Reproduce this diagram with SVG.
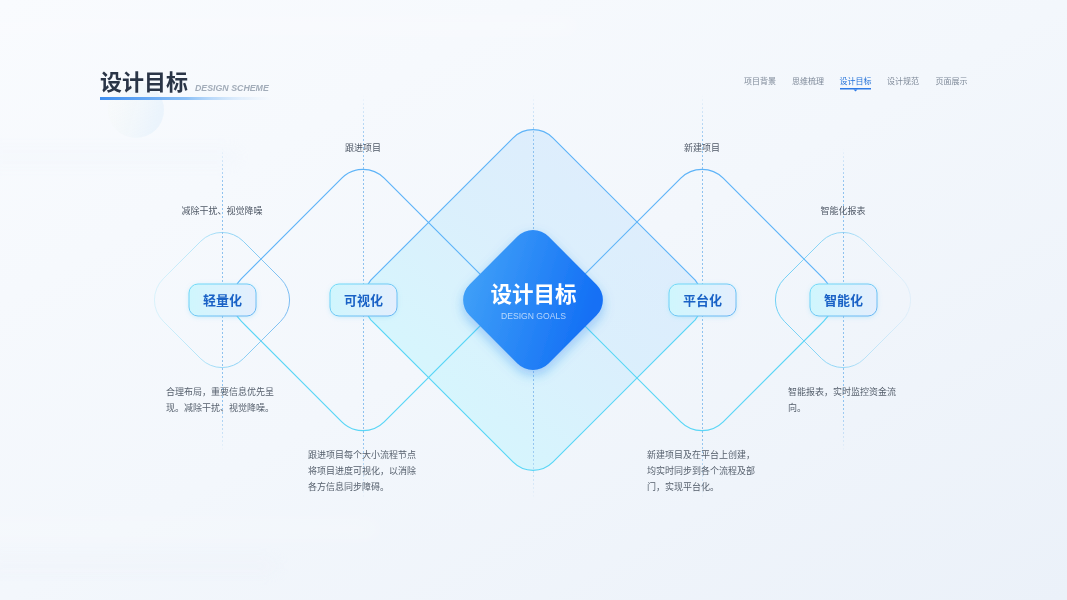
<svg xmlns="http://www.w3.org/2000/svg" width="1067" height="600" viewBox="0 0 1067 600">
<defs>
<linearGradient id="bg" x1="0" y1="0" x2="1" y2="1">
<stop offset="0" stop-color="#f9fbfe"/><stop offset="0.5" stop-color="#f3f7fc"/><stop offset="1" stop-color="#ebf1f9"/>
</linearGradient>
<filter id="blur8" x="-50%" y="-50%" width="200%" height="200%"><feGaussianBlur stdDeviation="10"/></filter>
<linearGradient id="ttlLine" x1="0" y1="0" x2="1" y2="0">
<stop offset="0" stop-color="#3d8df0"/><stop offset="0.5" stop-color="#8cc0f6"/><stop offset="1" stop-color="#d6e8fb" stop-opacity="0"/>
</linearGradient>
<linearGradient id="deco" x1="0" y1="0" x2="1" y2="0.3">
<stop offset="0" stop-color="#fbfcf4" stop-opacity="0.4"/><stop offset="1" stop-color="#dcedfb"/>
</linearGradient>
<linearGradient id="topLine" x1="0" y1="0" x2="1" y2="0">
<stop offset="0" stop-color="#c4daf3" stop-opacity="0"/><stop offset="0.1" stop-color="#c4daf3"/><stop offset="0.9" stop-color="#c4daf3"/><stop offset="1" stop-color="#c4daf3" stop-opacity="0.2"/>
</linearGradient>
<linearGradient id="bigFill" gradientUnits="userSpaceOnUse" x1="640" y1="180" x2="430" y2="420">
<stop offset="0" stop-color="#dcebfc"/><stop offset="0.45" stop-color="#d8eefc"/><stop offset="1" stop-color="#d2f6fd"/>
</linearGradient>
<linearGradient id="smallL" gradientUnits="userSpaceOnUse" x1="155" y1="0" x2="290" y2="0">
<stop offset="0" stop-color="#a6e6f8" stop-opacity="0.35"/><stop offset="0.6" stop-color="#8fd3f5"/><stop offset="1" stop-color="#7cbcf2"/>
</linearGradient>
<linearGradient id="smallR" gradientUnits="userSpaceOnUse" x1="776" y1="0" x2="911" y2="0">
<stop offset="0" stop-color="#6fd0f5"/><stop offset="0.5" stop-color="#9ad8f6"/><stop offset="1" stop-color="#c4e4f8" stop-opacity="0.35"/>
</linearGradient>
<linearGradient id="dashLong" gradientUnits="userSpaceOnUse" x1="0" y1="95" x2="0" y2="500">
<stop offset="0" stop-color="#8ec2ef" stop-opacity="0"/><stop offset="0.12" stop-color="#8ec2ef"/><stop offset="0.85" stop-color="#8ec2ef"/><stop offset="1" stop-color="#8ec2ef" stop-opacity="0"/>
</linearGradient>
<linearGradient id="dashShort" gradientUnits="userSpaceOnUse" x1="0" y1="148" x2="0" y2="452">
<stop offset="0" stop-color="#8ec2ef" stop-opacity="0"/><stop offset="0.12" stop-color="#8ec2ef"/><stop offset="0.85" stop-color="#8ec2ef"/><stop offset="1" stop-color="#8ec2ef" stop-opacity="0"/>
</linearGradient>
<linearGradient id="coreFill" x1="0" y1="0" x2="1" y2="0.3">
<stop offset="0" stop-color="#45a6f8"/><stop offset="1" stop-color="#1470f5"/>
</linearGradient>
<filter id="coreShadow" x="-30%" y="-30%" width="160%" height="170%">
<feDropShadow dx="0" dy="5" stdDeviation="6" flood-color="#1f78ee" flood-opacity="0.35"/>
</filter>
<linearGradient id="pillFill" x1="0" y1="0" x2="1" y2="0">
<stop offset="0" stop-color="#cff6fd"/><stop offset="1" stop-color="#e4eefd"/>
</linearGradient>
<linearGradient id="pillStroke" x1="0" y1="0" x2="1" y2="1">
<stop offset="0" stop-color="#74dcf7"/><stop offset="1" stop-color="#6ab4f3"/>
</linearGradient>
<filter id="pillGlow" x="-30%" y="-40%" width="160%" height="180%">
<feDropShadow dx="0" dy="1" stdDeviation="2" flood-color="#6fd3f5" flood-opacity="0.3"/>
</filter>
<style>
text{font-family:"Liberation Sans","Noto Sans CJK SC",sans-serif}
.cap{font-size:9px;fill:#4f5866;text-anchor:middle}
.desc{font-size:9px;fill:#56606d}
.nav{font-size:8px;fill:#7f8a99;text-anchor:middle}
.pilltxt{font-size:13px;font-weight:bold;fill:#1a62c6;text-anchor:middle}
.pill{fill:url(#pillFill);stroke:url(#pillStroke);stroke-width:1;filter:url(#pillGlow)}
.dash{fill:none;stroke-width:1;stroke-dasharray:2 2}
.up{fill:none;stroke:#5fb4f8;stroke-width:1.2}
.low{fill:none;stroke:#5ad6f6;stroke-width:1.2}
</style>
</defs>

<!-- background -->
<rect width="1067" height="600" fill="url(#bg)"/>
<g filter="url(#blur8)" opacity="0.45">
<rect x="-20" y="18" width="600" height="16" fill="#ffffff" opacity="0.6"/>
<rect x="-20" y="150" width="260" height="14" fill="#e9f0f8" opacity="0.4"/>
<rect x="-20" y="520" width="400" height="18" fill="#ffffff" opacity="0.5"/>
<rect x="-20" y="560" width="300" height="12" fill="#ebf1f8" opacity="0.5"/>
</g>

<!-- header -->
<g id="header">
<line x1="195" y1="67" x2="1062" y2="67" stroke="url(#topLine)" stroke-width="1" stroke-dasharray="2 1"/>
<circle cx="136" cy="110" r="28" fill="url(#deco)" opacity="0.45"/>
<text x="100" y="90" style="font-size:22px;font-weight:bold;fill:#2a3547">设计目标</text>
<text x="195" y="91" style="font-size:8.8px;font-weight:bold;font-style:italic;fill:#a2acb9">DESIGN SCHEME</text>
<rect x="100" y="97" width="172" height="3" fill="url(#ttlLine)"/>
</g>

<g id="nav">
<text class="nav" x="760" y="84">项目背景</text>
<text class="nav" x="808" y="84">思维梳理</text>
<text class="nav" x="855.5" y="84" style="fill:#1f6fd8">设计目标</text>
<text class="nav" x="903" y="84">设计规范</text>
<text class="nav" x="951.5" y="84">页面展示</text>
<rect x="840" y="88" width="31" height="1.5" fill="#2d7ae6"/>
<path d="M853.5 89.5 L857.5 89.5 L855.5 91.5 Z" fill="#2d7ae6"/>
</g>

<!-- big diamond -->
<g id="big-diamond">
<path d="M513.2 137.8 A28 28 0 0 1 552.8 137.8 L695.2 280.2 A28 28 0 0 1 695.2 319.8 L552.8 462.2 A28 28 0 0 1 513.2 462.2 L370.8 319.8 A28 28 0 0 1 370.8 280.2 Z" fill="url(#bigFill)" fill-opacity="0.9"/>
<path class="up" d="M364.9 300 A28 28 0 0 1 370.8 280.2 L513.2 137.8 A28 28 0 0 1 552.8 137.8 L695.2 280.2 A28 28 0 0 1 701.1 300"/>
<path class="low" d="M701.1 300 A28 28 0 0 1 695.2 319.8 L552.8 462.2 A28 28 0 0 1 513.2 462.2 L370.8 319.8 A28 28 0 0 1 364.9 300"/>
</g>

<!-- connectors / outlines -->
<g id="connectors">
<path class="up" d="M232.6 300 A30 30 0 0 1 241.2 278.8 L341.8 178.2 A30 30 0 0 1 384.2 178.2 L484.8 278.8 A30 30 0 0 1 493.4 300"/>
<path class="low" d="M493.4 300 A30 30 0 0 1 484.8 321.2 L384.2 421.8 A30 30 0 0 1 341.8 421.8 L241.2 321.2 A30 30 0 0 1 232.6 300"/>
<path class="up" d="M571.6 300 A30 30 0 0 1 580.2 278.8 L680.8 178.2 A30 30 0 0 1 723.2 178.2 L823.8 278.8 A30 30 0 0 1 832.4 300"/>
<path class="low" d="M832.4 300 A30 30 0 0 1 823.8 321.2 L723.2 421.8 A30 30 0 0 1 680.8 421.8 L580.2 321.2 A30 30 0 0 1 571.6 300"/>
<path d="M200.8 241.2 A30 30 0 0 1 243.2 241.2 L280.8 278.8 A30 30 0 0 1 280.8 321.2 L243.2 358.8 A30 30 0 0 1 200.8 358.8 L163.2 321.2 A30 30 0 0 1 163.2 278.8 Z" fill="none" stroke="url(#smallL)" stroke-width="1"/>
<path d="M821.8 241.2 A30 30 0 0 1 864.2 241.2 L901.8 278.8 A30 30 0 0 1 901.8 321.2 L864.2 358.8 A30 30 0 0 1 821.8 358.8 L784.2 321.2 A30 30 0 0 1 784.2 278.8 Z" fill="none" stroke="url(#smallR)" stroke-width="1"/>
<line class="dash" x1="222.5" y1="148" x2="222.5" y2="452" stroke="url(#dashShort)"/>
<line class="dash" x1="363.5" y1="95" x2="363.5" y2="500" stroke="url(#dashLong)"/>
<line class="dash" x1="533.5" y1="95" x2="533.5" y2="500" stroke="url(#dashLong)"/>
<line class="dash" x1="702.5" y1="95" x2="702.5" y2="500" stroke="url(#dashLong)"/>
<line class="dash" x1="843.5" y1="148" x2="843.5" y2="452" stroke="url(#dashShort)"/>
</g>

<!-- center node -->
<g id="core">
<path d="M517.4 236.6 A22 22 0 0 1 548.6 236.6 L596.4 284.4 A22 22 0 0 1 596.4 315.6 L548.6 363.4 A22 22 0 0 1 517.4 363.4 L469.6 315.6 A22 22 0 0 1 469.6 284.4 Z" fill="url(#coreFill)" filter="url(#coreShadow)"/>
<text x="533.5" y="302" style="font-size:21.5px;font-weight:bold;fill:#ffffff;text-anchor:middle">设计目标</text>
<text x="533.5" y="319" style="font-size:8.6px;fill:#ffffff;fill-opacity:0.65;text-anchor:middle">DESIGN GOALS</text>
</g>

<g id="node-light">
<rect class="pill" x="189" y="284" width="67" height="32" rx="9"/>
<text class="pilltxt" x="222.5" y="305">轻量化</text>
<text class="cap" x="222" y="214">减除干扰、视觉降噪</text>
<text class="desc" x="166" y="395">合理布局，重要信息优先呈</text>
<text class="desc" x="166" y="411">现。减除干扰、视觉降噪。</text>
</g>

<g id="node-visual">
<rect class="pill" x="330" y="284" width="67" height="32" rx="9"/>
<text class="pilltxt" x="363.5" y="305">可视化</text>
<text class="cap" x="363" y="151">跟进项目</text>
<text class="desc" x="308" y="458">跟进项目每个大小流程节点</text>
<text class="desc" x="308" y="474">将项目进度可视化，以消除</text>
<text class="desc" x="308" y="490">各方信息同步障碍。</text>
</g>

<g id="node-platform">
<rect class="pill" x="669" y="284" width="67" height="32" rx="9"/>
<text class="pilltxt" x="702.5" y="305">平台化</text>
<text class="cap" x="702" y="151">新建项目</text>
<text class="desc" x="647" y="458">新建项目及在平台上创建，</text>
<text class="desc" x="647" y="474">均实时同步到各个流程及部</text>
<text class="desc" x="647" y="490">门，实现平台化。</text>
</g>

<g id="node-smart">
<rect class="pill" x="810" y="284" width="67" height="32" rx="9"/>
<text class="pilltxt" x="843.5" y="305">智能化</text>
<text class="cap" x="843" y="214">智能化报表</text>
<text class="desc" x="788" y="395">智能报表，实时监控资金流</text>
<text class="desc" x="788" y="411">向。</text>
</g>
</svg>
